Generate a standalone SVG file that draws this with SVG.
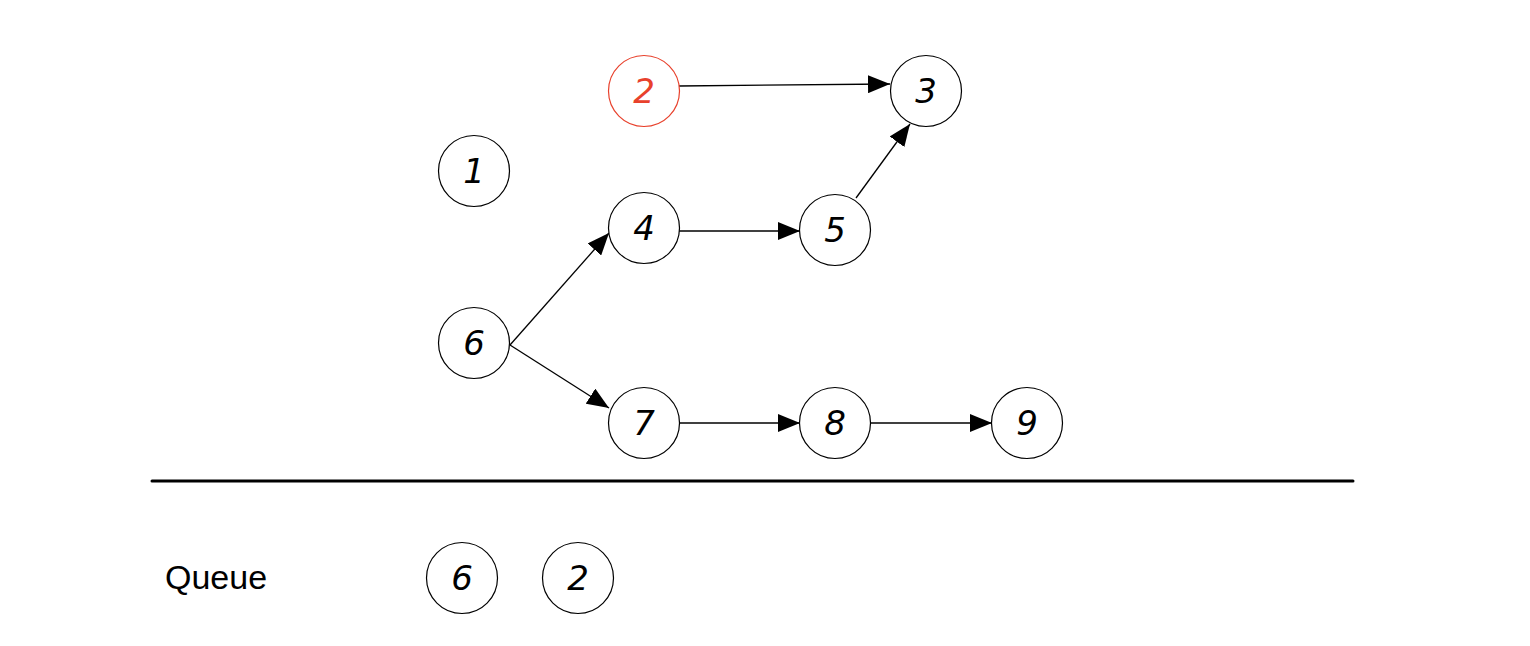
<svg xmlns="http://www.w3.org/2000/svg" width="1530" height="646" viewBox="0 0 1530 646">
<style>
.n{fill:#fff;stroke:#000;stroke-width:1.2}
.r{fill:#fff;stroke:#e8412c;stroke-width:1.2}
.d{font-family:"DejaVu Sans ExtraLight","DejaVu Sans","Liberation Sans",sans-serif;font-weight:200;font-style:italic;font-size:34px;text-anchor:middle;fill:#000}
.dr{fill:#e8412c}
.e{stroke:#000;stroke-width:1.3;fill:none;marker-end:url(#ah)}
</style>
<defs>
<marker id="ah" viewBox="0 0 22 18" refX="22" refY="9" markerWidth="22" markerHeight="18" markerUnits="userSpaceOnUse" orient="auto">
<path d="M0,0 L22,9 L0,18 Z" fill="#000"/>
</marker>
</defs>
<rect width="1530" height="646" fill="#fff"/>
<g id="connectors">
<line class="e" x1="679" y1="86" x2="890" y2="84"/>
<line class="e" x1="856" y1="198" x2="910" y2="124"/>
<line class="e" x1="510" y1="345" x2="609" y2="233"/>
<line class="e" x1="510" y1="345" x2="609" y2="408"/>
<line class="e" x1="679" y1="231" x2="800" y2="231"/>
<line class="e" x1="679" y1="423" x2="800" y2="423"/>
<line class="e" x1="870" y1="423" x2="992" y2="423"/>
</g>
<g id="node1"><circle class="n" cx="474" cy="171" r="35.5"/><text class="d" x="474" y="183">1</text></g>
<g id="node2"><circle class="r" cx="644" cy="91" r="35.5"/><text class="d dr" x="644" y="103">2</text></g>
<g id="node3"><circle class="n" cx="926" cy="91" r="35.5"/><text class="d" x="926" y="103">3</text></g>
<g id="node4"><circle class="n" cx="644" cy="228" r="35.5"/><text class="d" x="644" y="240">4</text></g>
<g id="node5"><circle class="n" cx="835" cy="230" r="35.5"/><text class="d" x="835" y="242">5</text></g>
<g id="node6"><circle class="n" cx="474" cy="343" r="35.5"/><text class="d" x="474" y="355">6</text></g>
<g id="node7"><circle class="n" cx="644" cy="423" r="35.5"/><text class="d" x="644" y="435">7</text></g>
<g id="node8"><circle class="n" cx="835" cy="423" r="35.5"/><text class="d" x="835" y="435">8</text></g>
<g id="node9"><circle class="n" cx="1027" cy="423" r="35.5"/><text class="d" x="1027" y="435">9</text></g>
<line x1="152" y1="481" x2="1353" y2="481" stroke="#000" stroke-width="3" stroke-linecap="round"/>
<text x="165" y="589" font-family="Liberation Sans, Arial, sans-serif" font-size="34" fill="#000">Queue</text>
<g id="queue6"><circle class="n" cx="462" cy="578" r="35.5"/><text class="d" x="462" y="590">6</text></g>
<g id="queue2"><circle class="n" cx="578" cy="578" r="35.5"/><text class="d" x="578" y="590">2</text></g>
</svg>
